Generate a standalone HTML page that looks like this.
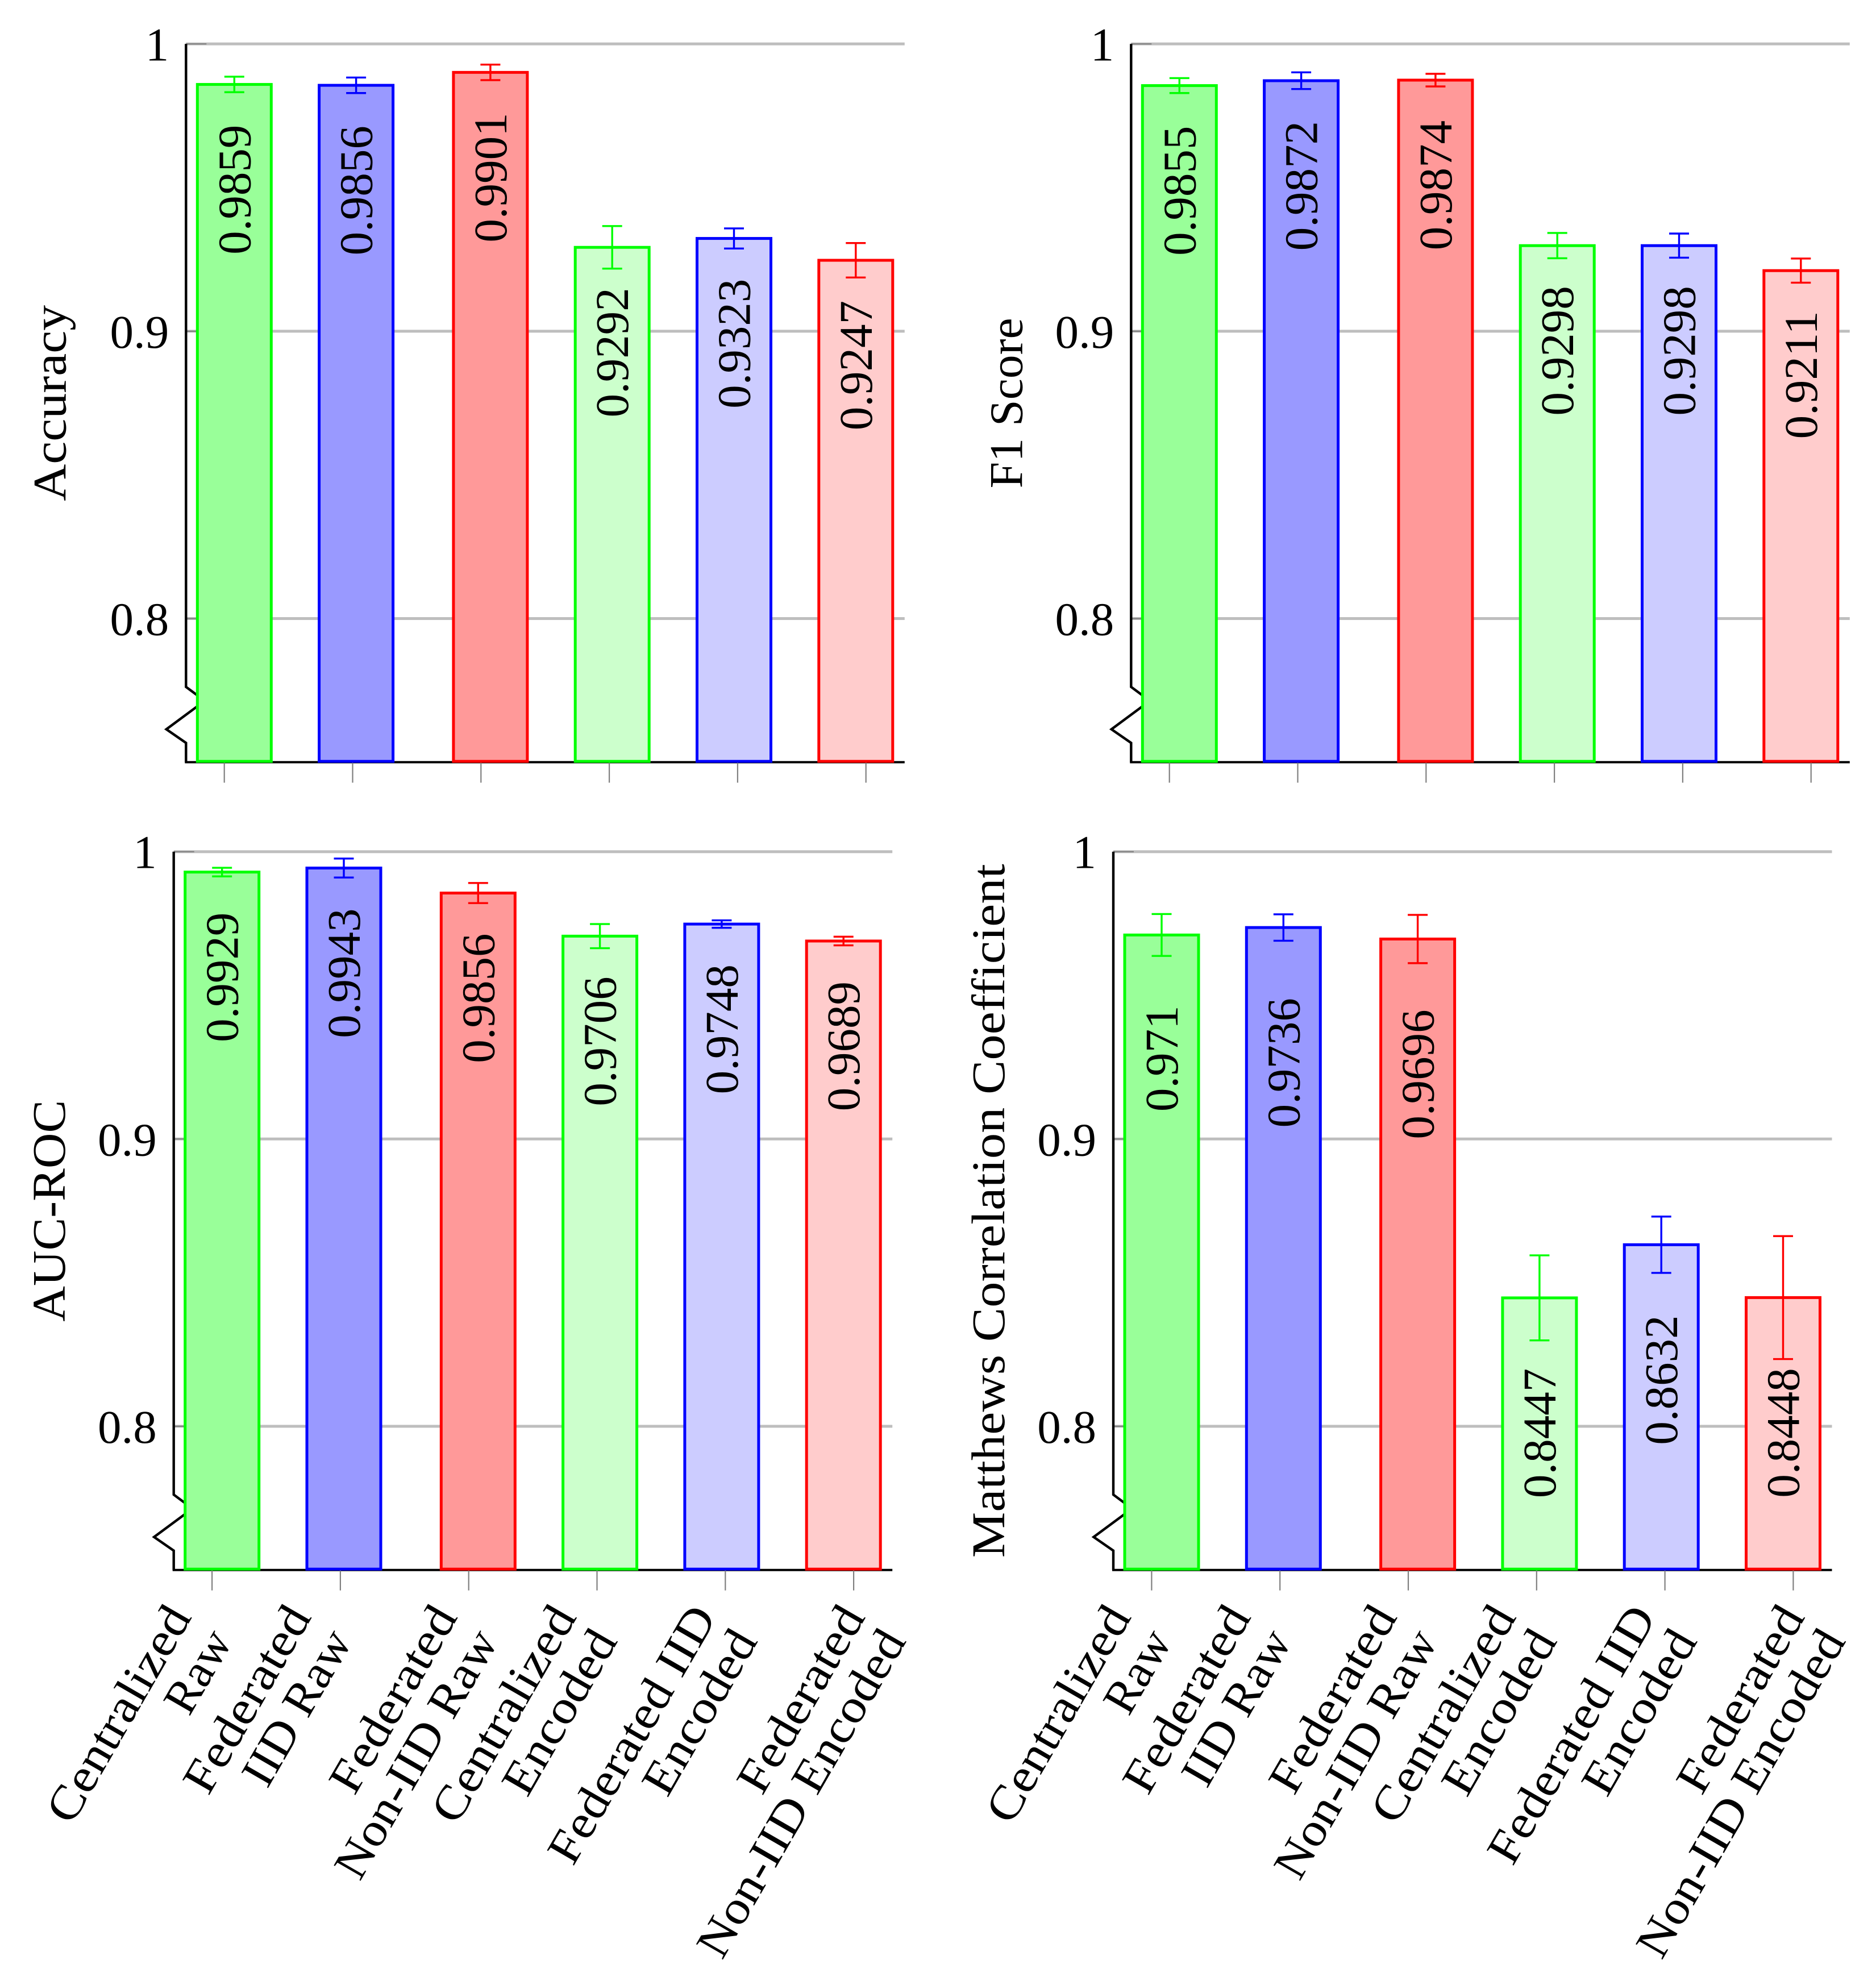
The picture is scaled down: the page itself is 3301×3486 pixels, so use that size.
<!DOCTYPE html>
<html>
<head>
<meta charset="utf-8">
<title>Model metric comparison</title>
<style>
html,body{margin:0;padding:0;background:#fff;}
svg{display:block;}
text{font-family:"Liberation Serif",serif;font-size:83px;fill:#000;}
</style>
</head>
<body>
<svg id="chart" xmlns="http://www.w3.org/2000/svg" width="3301" height="3486" viewBox="0 0 3301 3486">
<rect x="0" y="0" width="3301" height="3486" fill="#ffffff"/>
</svg>
<script>
const categories = [
  ['Centralized', 'Raw'],
  ['Federated', 'IID Raw'],
  ['Federated', 'Non-IID Raw'],
  ['Centralized', 'Encoded'],
  ['Federated IID', 'Encoded'],
  ['Federated', 'Non-IID Encoded']
];
const accuracyValues = [0.9859, 0.9856, 0.9901, 0.9292, 0.9323, 0.9247];
const accuracyErrors = [0.0027, 0.0027, 0.0027, 0.0074, 0.0035, 0.0060];
const f1Values = [0.9855, 0.9872, 0.9874, 0.9298, 0.9298, 0.9211];
const f1Errors = [0.0026, 0.0029, 0.0022, 0.0044, 0.0042, 0.0042];
const aucValues = [0.9929, 0.9943, 0.9856, 0.9706, 0.9748, 0.9689];
const aucErrors = [0.0015, 0.0033, 0.0035, 0.0042, 0.0013, 0.0015];
const mccValues = [0.971, 0.9736, 0.9696, 0.8447, 0.8632, 0.8448];
const mccErrors = [0.0073, 0.0046, 0.0084, 0.0148, 0.0098, 0.0214];
const yTickValues = [0.8, 0.9, 1];
const yTickLabels = ['0.8', '0.9', '1'];
const yDomainMin = 0.75;
const yDomainMax = 1;

const NS = 'http://www.w3.org/2000/svg';
const svg = document.getElementById('chart');
const strokeColors = ['#00ff00', '#0000ff', '#ff0000', '#00ff00', '#0000ff', '#ff0000'];
const fillColors = ['#99ff99', '#9999ff', '#ff9999', '#ccffcc', '#ccccff', '#ffcccc'];
const lineLengths = {
  'Centralized': 425, 'Raw': 155, 'Federated': 365, 'IID Raw': 302,
  'Non-IID Raw': 490, 'Encoded': 320, 'Federated IID': 508, 'Non-IID Encoded': 650
};
const PLOT_W = 1264.5, PLOT_H = 1264;

function mk(parent, tag, attrs, txt) {
  const el = document.createElementNS(NS, tag);
  for (const k in attrs) el.setAttribute(k, attrs[k]);
  if (txt !== undefined) el.textContent = txt;
  parent.appendChild(el);
  return el;
}
function slug(s) { return s.toLowerCase().replace(/[^a-z0-9]+/g, '-'); }

function drawPanel(cfg) {
  const ax = cfg.x, top = cfg.y, bottom = top + PLOT_H;
  const yPos = v => top + (yDomainMax - v) / (yDomainMax - yDomainMin) * PLOT_H;
  const barCenter = i => ax + 85 + 214.3 * i + (i >= 2 ? 22 : 0);
  const tickPos = i => ax + 67.4 + 225.8 * i;

  const g = mk(svg, 'g', {});
  
  

  yTickValues.forEach((v, i) => {
    const y = yPos(v);
    const grid = mk(g, 'line', {x1: ax, x2: ax + PLOT_W, y1: y, y2: y, stroke: '#bebebe', 'stroke-width': 5});
    
    
    const tick = mk(g, 'line', {x1: ax, x2: ax + 36, y1: y, y2: y, stroke: '#808080', 'stroke-width': 2.2});
    
    
    const lab = mk(g, 'text', {x: ax - 30, y: y + 29, 'text-anchor': 'end'}, yTickLabels[i]);
    
    
  });

  const yAxis = mk(g, 'polyline', {
    points: [[ax, top], [ax, bottom - 132.5], [ax + 33, bottom - 108], [ax - 34.6, bottom - 58], [ax, bottom - 34], [ax, bottom]].map(p => p.join(',')).join(' '),
    fill: 'none', stroke: '#000', 'stroke-width': 4.4
  });
  
  

  const xAxis = mk(g, 'line', {x1: ax - 2, x2: ax + PLOT_W, y1: bottom, y2: bottom, stroke: '#000', 'stroke-width': 4});
  
  

  categories.forEach((c, i) => {
    const t = mk(g, 'line', {x1: tickPos(i), x2: tickPos(i), y1: bottom + 1, y2: bottom + 36, stroke: '#808080', 'stroke-width': 2.2});
    
    
  });

  cfg.values.forEach((v, i) => {
    const key = cfg.name + '-' + slug(categories[i].join(' '));
    const cx = barCenter(i), y = yPos(v);
    const bar = mk(g, 'rect', {x: cx - 65, y: y, width: 130, height: bottom - 1.5 - y, fill: fillColors[i], stroke: strokeColors[i], 'stroke-width': 5});
    
    

    const hi = yPos(v + cfg.errors[i]), lo = yPos(v - cfg.errors[i]);
    const err = mk(g, 'path', {
      d: 'M' + cx + ' ' + hi + 'V' + lo + 'M' + (cx - 17.5) + ' ' + hi + 'H' + (cx + 17.5) + 'M' + (cx - 17.5) + ' ' + lo + 'H' + (cx + 17.5),
      fill: 'none', stroke: strokeColors[i], 'stroke-width': 3.4
    });
    
    

    const lx = cx + 28, ly = y + cfg.labelOffset;
    const val = mk(g, 'text', {x: lx, y: ly, 'text-anchor': 'end', transform: 'rotate(-90 ' + lx + ' ' + ly + ')'}, String(v));
    
    
  });

  const titleX = ax + cfg.titleDx, titleY = top + PLOT_H / 2;
  const title = mk(g, 'text', {
    x: titleX, y: titleY, 'text-anchor': 'middle',
    textLength: cfg.titleLength, lengthAdjust: 'spacingAndGlyphs',
    transform: 'rotate(-90 ' + titleX + ' ' + titleY + ')'
  }, cfg.title);
  
  

  if (cfg.showLabels) {
    categories.forEach((lines, i) => {
      const w = Math.max(lineLengths[lines[0]], lineLengths[lines[1]]);
      const endX = tickPos(i) - 141 + 0.25 * w;
      const endY = bottom + 83;
      lines.forEach((line, j) => {
        const px = endX + j * 72, py = endY + j * 42;
        const t = mk(g, 'text', {
          x: px, y: py, 'text-anchor': 'end',
          textLength: lineLengths[line], lengthAdjust: 'spacingAndGlyphs',
          transform: 'rotate(-60 ' + px + ' ' + py + ')'
        }, line);
        
        
      });
    });
  }
}

drawPanel({name: 'accuracy', x: 327.3, y: 77.3, values: accuracyValues, errors: accuracyErrors, title: 'Accuracy', titleDx: -212, titleLength: 345, labelOffset: 71, showLabels: false});
drawPanel({name: 'f1-score', x: 1990.3, y: 77.3, values: f1Values, errors: f1Errors, title: 'F1 Score', titleDx: -191.6, titleLength: 300, labelOffset: 71, showLabels: false});
drawPanel({name: 'auc-roc', x: 305.7, y: 1498.7, values: aucValues, errors: aucErrors, title: 'AUC-ROC', titleDx: -191.7, titleLength: 390, labelOffset: 71, showLabels: true});
drawPanel({name: 'mcc', x: 1959, y: 1498.7, values: mccValues, errors: mccErrors, title: 'Matthews Correlation Coefficient', titleDx: -192, titleLength: 1221, labelOffset: 124, showLabels: true});
</script>
</body>
</html>
